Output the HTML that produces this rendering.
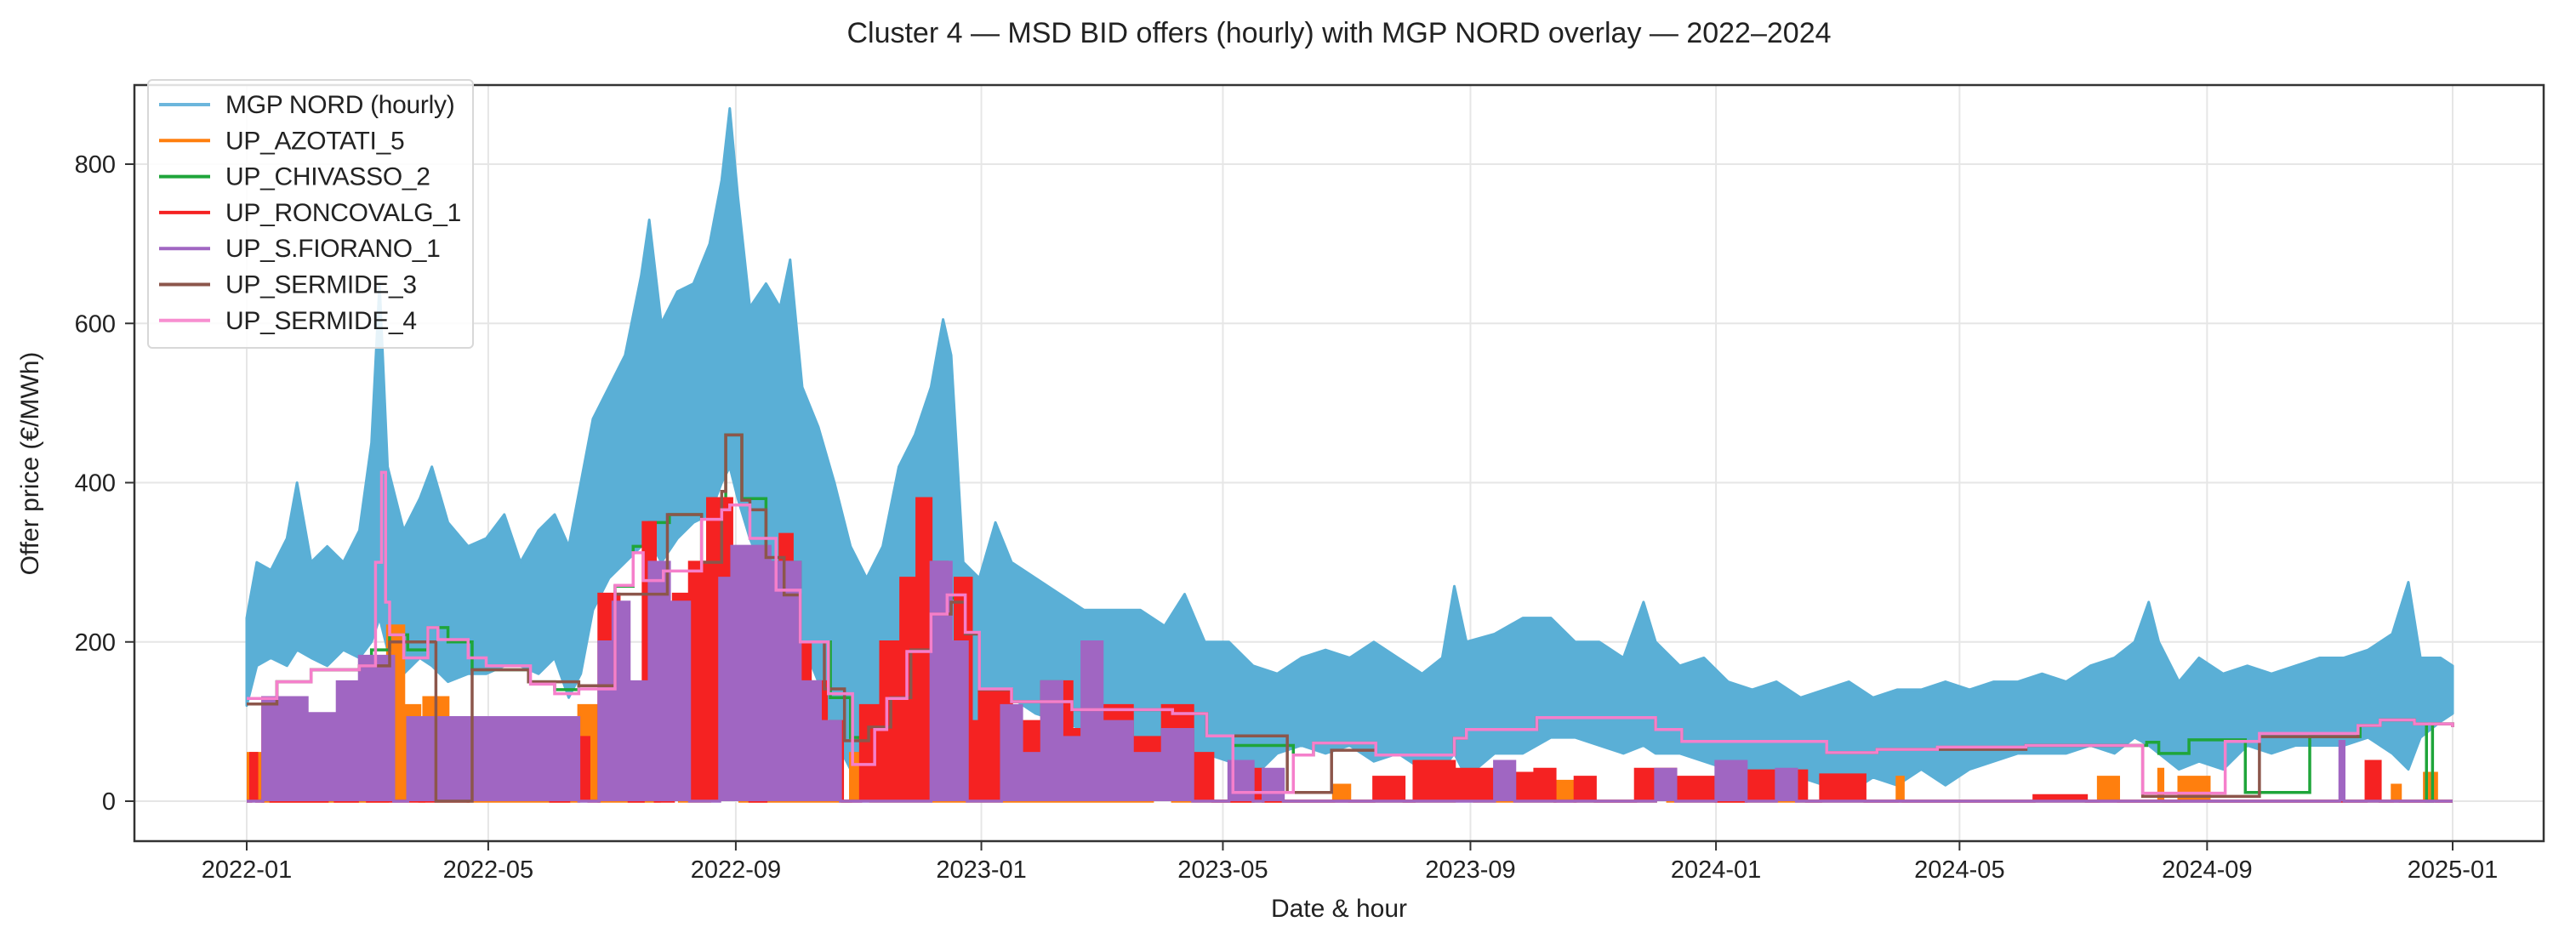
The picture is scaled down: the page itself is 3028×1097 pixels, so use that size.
<!DOCTYPE html>
<html><head><meta charset="utf-8"><style>
html,body{margin:0;padding:0;background:#fff;}
svg{display:block;font-family:"Liberation Sans","DejaVu Sans",sans-serif;}
</style></head><body>
<svg id="chart" width="3028" height="1097" viewBox="0 0 3028 1097" xmlns="http://www.w3.org/2000/svg">
<rect width="3028" height="1097" fill="#fff"/>
<text x="1574" y="50" font-size="34" text-anchor="middle" fill="#222">Cluster 4 — MSD BID offers (hourly) with MGP NORD overlay — 2022–2024</text>
<g id="grid"></g>
<defs><clipPath id="plotclip"><rect x="158" y="100" width="2832" height="889"/></clipPath></defs>
<g id="series" clip-path="url(#plotclip)"></g>
<rect x="158" y="100" width="2832" height="889" fill="none" stroke="#333" stroke-width="2.5"/>
<g id="axes"></g>
<text x="1574" y="1078" font-size="30" text-anchor="middle" fill="#222">Date &amp; hour</text>
<text x="45" y="545" font-size="30" text-anchor="middle" fill="#222" transform="rotate(-90 45 545)">Offer price (€/MWh)</text>
<g id="legend"></g>
</svg>
<script>
// ---- data ----
const xTickLabels = ["2022-01","2022-05","2022-09","2023-01","2023-05","2023-09","2024-01","2024-05","2024-09","2025-01"];
const yTicks = [0,200,400,600,800];

const mgpDay  = [0,5,12,20,25,32,40,48,56,62,66,70,78,86,92,100,110,119,128,136,145,153,160,166,172,180,188,196,200,206,214,222,230,236,240,244,250,258,265,270,276,284,292,300,308,316,324,332,340,346,350,356,364,372,380,392,404,416,430,444,456,466,476,488,500,512,524,536,548,560,572,584,594,600,606,620,634,648,660,672,684,694,700,712,724,736,748,760,772,784,796,808,820,832,844,856,868,880,892,904,916,928,938,945,950,960,970,982,994,1006,1018,1030,1042,1054,1066,1074,1080,1090,1096];
const mgpHigh = [230,300,290,330,400,300,320,300,340,450,650,420,340,380,420,350,320,330,360,300,340,360,320,400,480,520,560,660,730,600,640,650,700,780,870,760,620,650,620,680,520,470,400,320,280,320,420,460,520,605,560,300,280,350,300,280,260,240,240,240,220,260,200,200,170,160,180,190,180,200,180,160,180,270,200,210,230,230,200,200,180,250,200,170,180,150,140,150,130,140,150,130,140,140,150,140,150,150,160,150,170,180,200,250,200,150,180,160,170,160,170,180,180,190,210,275,180,180,170];
const mgpLow  = [120,170,180,170,190,180,170,190,180,200,230,190,160,180,170,150,160,160,170,170,160,180,130,160,240,280,300,320,330,300,330,350,360,400,420,380,330,280,260,300,200,150,80,40,70,110,130,170,160,170,130,60,90,120,130,110,100,90,90,80,70,60,60,50,30,60,70,60,70,50,60,40,40,60,30,60,60,80,80,70,60,70,60,60,50,40,30,40,30,20,10,30,20,40,20,40,50,60,60,60,70,60,80,70,60,40,50,40,70,60,70,70,70,80,60,40,80,100,110];

const azoDay = [0,8,70,78,86,88,100,110,165,175,205,215,230,238,245,300,310,450,460,540,548,600,610,650,660,700,706,820,823,920,930,950,952,960,975,1066,1070,1082,1088,1096];
const azoVal = [60,0,220,120,0,130,90,0,120,0,200,0,380,250,0,60,0,30,0,20,0,30,0,25,0,25,0,30,0,30,0,40,0,30,0,20,0,35,0,0];

const chiDay = [0,15,32,56,62,71,80,90,100,112,140,153,165,183,192,200,210,226,238,246,258,275,290,300,310,320,330,340,350,357,364,380,410,460,477,490,520,530,561,600,606,641,700,713,785,810,840,884,944,950,965,993,1025,1050,1060,1077,1083,1086,1096];
const chiVal = [122,150,165,170,190,209,190,218,200,165,150,140,145,270,320,350,360,300,460,380,300,200,130,80,100,130,190,240,255,210,140,125,115,110,82,70,58,73,58,79,90,105,90,75,61,65,68,70,74,60,77,11,81,95,102,97,0,97,93];

const ronDay = [0,2,5,8,12,40,44,55,60,110,151,160,170,175,185,190,197,203,212,220,229,241,250,258,265,271,280,288,296,305,315,325,333,340,348,352,360,364,380,395,410,425,440,455,470,480,500,505,560,575,580,600,620,640,650,660,670,690,710,730,745,775,782,804,888,914,1053,1060,1096];
const ronVal = [0,60,0,130,0,100,0,140,0,105,0,80,0,260,150,0,350,0,260,300,380,300,0,250,335,200,150,100,0,120,200,280,380,300,150,280,100,140,100,150,90,120,80,120,60,0,40,0,30,0,50,40,35,40,0,30,0,40,30,0,38,0,33,0,7,0,50,0,0];

const fioDay = [0,8,30,45,56,73,80,165,175,182,190,200,210,220,235,241,260,275,285,295,340,350,358,375,385,395,405,415,425,440,455,470,488,500,505,515,620,630,700,710,730,745,760,770,1040,1042,1096];
const fioVal = [0,130,110,150,182,0,105,0,200,250,150,300,250,0,280,320,300,150,100,0,300,200,0,120,60,150,80,200,100,60,90,0,50,0,40,0,50,0,40,0,50,0,40,0,75,0,0];

const se3Day = [0,15,32,56,71,94,112,140,165,183,209,226,236,238,246,250,258,267,275,287,297,309,320,330,340,350,357,364,380,410,460,477,493,517,539,561,600,606,641,700,713,785,810,884,942,1000,1049,1060,1077,1096];
const se3Val = [122,150,165,170,200,0,165,150,145,260,360,300,389,460,378,366,306,259,200,141,76,93,130,190,235,250,210,140,125,115,110,82,82,11,64,58,79,90,105,90,75,61,65,70,6,81,95,102,97,93];

const se4Day = [0,15,32,56,64,67,69,71,78,90,95,110,119,141,153,165,183,192,197,207,226,236,240,250,263,275,289,301,312,318,328,340,348,357,364,380,410,460,477,490,520,530,561,600,606,641,700,713,785,810,840,884,942,983,1000,1049,1060,1077,1096];
const se4Val = [129,150,165,170,300,413,250,209,180,218,203,180,170,147,135,141,271,312,277,289,354,366,372,330,265,200,135,46,90,129,188,235,259,212,141,125,115,110,82,11,58,73,58,79,90,105,90,75,61,65,68,70,10,75,85,95,102,97,93];

// ---- scales ----
const X0=290, PXDAY=(2883-290)/1096, Y0=942, PXV=(942-193)/800;
const sx = d => X0 + d*PXDAY;
const sy = v => Y0 - v*PXV;
const dayOf = s => { const [y,m]=s.split('-').map(Number); return (Date.UTC(y,m-1,1)-Date.UTC(2022,0,1))/86400000; };
const NS="http://www.w3.org/2000/svg";
function mk(tag, attrs, parent){ const e=document.createElementNS(NS,tag); for(const k in attrs) e.setAttribute(k,attrs[k]); parent.appendChild(e); return e; }

const gridG=document.getElementById('grid'), axesG=document.getElementById('axes'), serG=document.getElementById('series');
xTickLabels.forEach(t=>{
  const x=sx(dayOf(t));
  const gl=mk('line',{x1:x,x2:x,y1:100,y2:989,stroke:'#e6e6e6','stroke-width':2},gridG);
  
  
  const tk=mk('line',{x1:x,x2:x,y1:989,y2:1000,stroke:'#333','stroke-width':2},axesG);
  
  
  const tx=mk('text',{x:x,y:1032,'font-size':29,'text-anchor':'middle',fill:'#222'},axesG);
  tx.textContent=t;
  
  
});
yTicks.forEach(v=>{
  const y=sy(v);
  const gl=mk('line',{x1:158,x2:2990,y1:y,y2:y,stroke:'#e6e6e6','stroke-width':2},gridG);
  
  
  const tk=mk('line',{x1:147,x2:158,y1:y,y2:y,stroke:'#333','stroke-width':2},axesG);
  
  
  const tx=mk('text',{x:136,y:y+10,'font-size':29,'text-anchor':'end',fill:'#222'},axesG);
  tx.textContent=v;
  
  
});

// MGP band
const mgpTopPts=mgpDay.map((d,i)=>sx(d)+','+sy(mgpHigh[i]));
const mgpBotPts=mgpDay.map((d,i)=>sx(d)+','+sy(mgpLow[i])).reverse();
const mgpPoly=mk('polygon',{points:mgpTopPts.concat(mgpBotPts).join(' '),fill:'#5aafd6',stroke:'#5aafd6','stroke-width':3,'stroke-linejoin':'round'},serG);



function stepPts(days, vals){
  const p=[];
  for(let i=0;i<days.length;i++){
    if(i>0) p.push([sx(days[i]),sy(vals[i-1])]);
    p.push([sx(days[i]),sy(vals[i])]);
  }
  return p;
}
function stepSeries(days, vals, color, filled, name){
  const p=stepPts(days,vals);
  const g=mk('g',{},serG);
  
  
  if(filled){
    const poly=p.map(q=>q.join(',')).concat([sx(days[days.length-1])+','+sy(0), sx(days[0])+','+sy(0)]);
    mk('polygon',{points:poly.join(' '),fill:color,stroke:'none'},g);
  }
  mk('polyline',{points:p.map(q=>q.join(',')).join(' '),fill:'none',stroke:color,'stroke-width':3.5,'stroke-linejoin':'miter'},g);
}
stepSeries(azoDay,azoVal,'#ff7f0e',true,'azotati-5-series');
stepSeries(chiDay,chiVal,'#1fa53a',false,'chivasso-2-series');
stepSeries(ronDay,ronVal,'#f52222',true,'roncovalg-1-series');
stepSeries(fioDay,fioVal,'#a066c2',true,'s-fiorano-1-series');
stepSeries(se3Day,se3Val,'#8c564b',false,'sermide-3-series');
stepSeries(se4Day,se4Val,'#f57fcb',false,'sermide-4-series');

// legend
const legendG=document.getElementById('legend');
const legNames=["MGP NORD (hourly)","UP_AZOTATI_5","UP_CHIVASSO_2","UP_RONCOVALG_1","UP_S.FIORANO_1","UP_SERMIDE_3","UP_SERMIDE_4"];
const legColors=["#6cb6dc","#ff7f0e","#1fa53a","#f52222","#a066c2","#8c564b","#f78fd0"];
mk('rect',{x:174,y:94,width:382,height:315,rx:5,fill:'#fff','fill-opacity':0.85,stroke:'#d8d8d8','stroke-width':2},legendG);
legNames.forEach((n,i)=>{
  const y=123+i*42.3;
  const e=mk('g',{},legendG);
  
  
  mk('line',{x1:187,x2:247,y1:y,y2:y,stroke:legColors[i],'stroke-width':4},e);
  const t=mk('text',{x:265,y:y+10,'font-size':30,fill:'#222','letter-spacing':'-0.3'},e);
  t.textContent=n;
});
</script>
</body></html>
